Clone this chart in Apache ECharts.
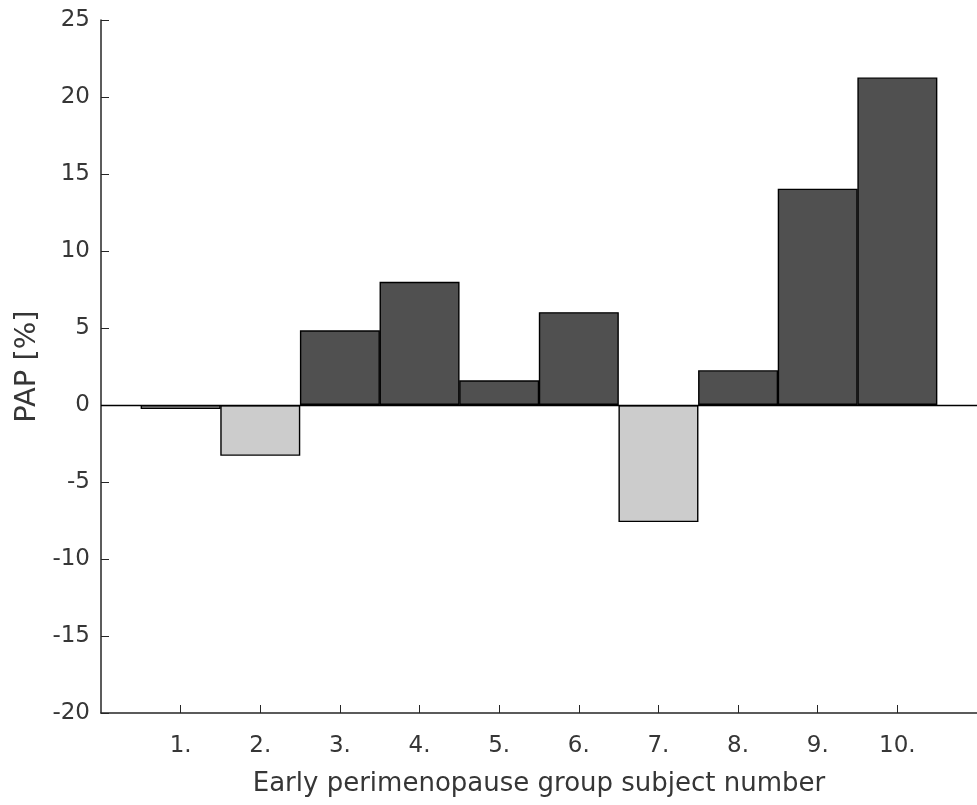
<!DOCTYPE html>
<html>
<head>
<meta charset="utf-8">
<script src="https://cdn.jsdelivr.net/npm/echarts@6/dist/echarts.min.js"></script>
<style>
  html, body { margin: 0; padding: 0; background: #fff; }
  #chart { width: 977px; height: 805px; }
</style>
</head>
<body>
<div id="chart"></div>
<script>
// Subject numbers and their PAP change in percent
const subjects = [1, 2, 3, 4, 5, 6, 7, 8, 9, 10];
const subjectLabels = ['1.', '2.', '3.', '4.', '5.', '6.', '7.', '8.', '9.', '10.'];
const papValues = [-0.26, -3.3, 4.85, 8.0, 1.6, 6.03, -7.6, 2.26, 14.05, 21.27];
const yTicks = [-20, -15, -10, -5, 0, 5, 10, 15, 20, 25];

const POS_COLOR = '#505050';
const NEG_COLOR = '#cccccc';
const TEXT_COLOR = '#363636';
const AXIS_COLOR = '#262626';
const FONT = '"DejaVu Sans", sans-serif';

const chart = echarts.init(document.getElementById('chart'), null, { renderer: 'canvas' });

const barData = subjects.map((s, i) => ({
  value: [s, papValues[i]],
  itemStyle: { color: papValues[i] >= 0 ? POS_COLOR : NEG_COLOR }
}));

chart.setOption({
  animation: false,
  backgroundColor: '#ffffff',
  grid: { left: 101, right: -4, top: 20, bottom: 92, containLabel: false },
  xAxis: {
    type: 'value',
    min: 0,
    max: 11,
    interval: 1,
    name: 'Early perimenopause group subject number',
    nameLocation: 'middle',
    nameGap: 58,
    nameTextStyle: { fontSize: 26, color: TEXT_COLOR, fontFamily: FONT },
    axisLine: { onZero: false, lineStyle: { color: AXIS_COLOR, width: 1.5 } },
    axisTick: { inside: true, length: 8, customValues: subjects, lineStyle: { color: AXIS_COLOR } },
    axisLabel: {
      customValues: subjects,
      formatter: v => subjectLabels[subjects.indexOf(v)] || '',
      fontSize: 23, color: TEXT_COLOR, fontFamily: FONT, margin: 22
    },
    splitLine: { show: false }
  },
  yAxis: {
    type: 'value',
    min: -20,
    max: 25,
    interval: 5,
    name: 'PAP [%]',
    nameLocation: 'middle',
    nameGap: 59,
    nameRotate: 90,
    nameTextStyle: { fontSize: 29, color: TEXT_COLOR, fontFamily: FONT },
    axisLine: { show: true, onZero: false, lineStyle: { color: AXIS_COLOR, width: 1.5 } },
    axisTick: { show: true, inside: true, length: 8, lineStyle: { color: AXIS_COLOR } },
    axisLabel: {
      customValues: yTicks,
      fontSize: 23, color: TEXT_COLOR, fontFamily: FONT, margin: 11
    },
    splitLine: { show: false }
  },
  series: [{
    type: 'bar',
    data: barData,
    barWidth: 80,
    itemStyle: { borderColor: '#000000', borderWidth: 1.4 },
    markLine: {
      silent: true,
      symbol: 'none',
      label: { show: false },
      lineStyle: { color: '#000000', width: 1.3, type: 'solid' },
      data: [{ yAxis: 0 }]
    }
  }]
});
</script>
</body>
</html>
